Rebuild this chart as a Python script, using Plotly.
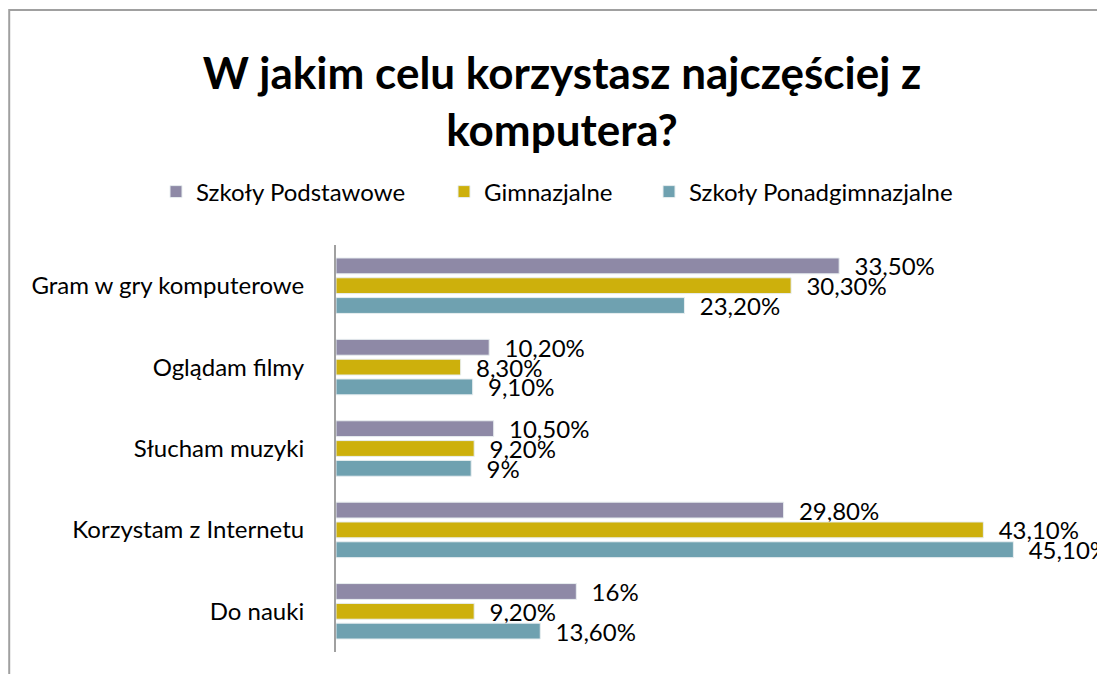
import plotly.graph_objects as go

categories = ["Gram w gry komputerowe", "Oglądam filmy", "Słucham muzyki", "Korzystam z Internetu", "Do nauki"]
series_names = ["Szkoły Podstawowe", "Gimnazjalne", "Szkoły Ponadgimnazjalne"]
podstawowe = [33.5, 10.2, 10.5, 29.8, 16.0]
gimnazjalne = [30.3, 8.3, 9.2, 43.1, 9.2]
ponadgimnazjalne = [23.2, 9.1, 9.0, 45.1, 13.6]
labels_pod = ["33,50%", "10,20%", "10,50%", "29,80%", "16%"]
labels_gim = ["30,30%", "8,30%", "9,20%", "43,10%", "9,20%"]
labels_pon = ["23,20%", "9,10%", "9%", "45,10%", "13,60%"]

colors = ["#8E89A6", "#CDB00C", "#6FA1B0"]
FONT = "Lato, Calibri, sans-serif"
# page body has an 8px margin, so the figure is drawn 8px smaller
W, H = 1097, 666
L, R, T, B = 328, 17.5, 237, 22
pw, ph = W - L - R, H - T - B
NB = "\u00a0"

legend_names = ["legend", "legend2", "legend3"]
legend_x = [148, 436, 641]

fig = go.Figure()
for name, vals, labs, col, lg in zip(series_names, [podstawowe, gimnazjalne, ponadgimnazjalne],
                                      [labels_pod, labels_gim, labels_pon], colors, legend_names):
    fig.add_trace(go.Bar(
        y=categories, x=vals, name=name, orientation="h",
        marker=dict(color=col, line=dict(color="#E8EEF0", width=1)),
        text=[NB * 2 + t for t in labs], textposition="outside", constraintext="none",
        textangle=0,
        textfont=dict(family=FONT, size=24, color="#000000"),
        cliponaxis=False, legend=lg,
    ))

def px(x):
    return (x - L) / pw

def py(y):
    return 1 - (y - T) / ph

leg_common = dict(orientation="h", xref="container", yref="container", xanchor="left",
                  yanchor="middle", y=1 - 184 / H, font=dict(family=FONT, size=24),
                  bgcolor="rgba(0,0,0,0)")
fig.update_layout(
    width=W, height=H,
    margin=dict(l=L, r=R, t=T, b=B),
    barmode="group", bargap=0.27, bargroupgap=0.2,
    plot_bgcolor="white", paper_bgcolor="white",
    font=dict(family=FONT, size=24, color="#000000"),
    title=dict(text="<b>W jakim celu korzystasz najczęściej z<br>komputera?</b>",
               x=554 / W, xanchor="center", y=1 - 81 / H, yanchor="middle",
               font=dict(family=FONT, size=44, color="#000000")),
    legend=dict(x=legend_x[0] / W, **leg_common),
    legend2=dict(x=legend_x[1] / W, **leg_common),
    legend3=dict(x=legend_x[2] / W, **leg_common),
    xaxis=dict(range=[0, 50], showgrid=False, zeroline=False, showticklabels=False,
               showline=False, fixedrange=True),
    yaxis=dict(autorange="reversed", showline=True, linecolor="#A0A0A0", linewidth=2,
               ticks="", ticklabelstandoff=25, tickfont=dict(family=FONT, size=24)),
    showlegend=True,
)
fig.add_shape(type="rect", xref="paper", yref="paper",
              x0=px(1), x1=px(1110), y0=py(2), y1=py(690),
              line=dict(color="#A0A0A0", width=2), fillcolor="rgba(0,0,0,0)", layer="below")
fig.write_html("out.html")
